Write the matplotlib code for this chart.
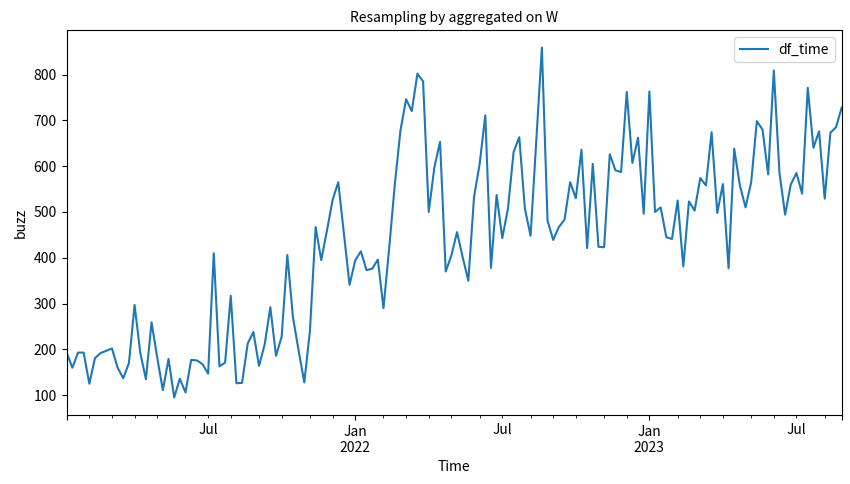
import matplotlib
matplotlib.use("Agg")
import matplotlib.pyplot as plt
import pandas as pd

plt.rcParams['font.family'] = ['Noto Sans CJK SC', 'DejaVu Sans']

start_date = "2021-01-10"
freq = "W"
series_name = "df_time"
buzz = [
    193, 160, 193, 193, 125, 181, 192, 197, 202, 160,
    137, 170, 297, 193, 135, 259, 182, 111, 179, 95,
    136, 106, 177, 176, 168, 147, 410, 163, 171, 317,
    126, 127, 213, 238, 164, 211, 292, 186, 228, 406,
    270, 197, 128, 241, 467, 395, 459, 526, 565, 452,
    341, 394, 414, 373, 376, 396, 290, 420, 560, 678,
    746, 720, 802, 785, 500, 598, 653, 370, 405, 456,
    401, 350, 532, 605, 711, 378, 537, 443, 507, 631,
    663, 507, 448, 655, 859, 481, 439, 467, 483, 565,
    530, 636, 421, 605, 424, 423, 626, 591, 587, 762,
    607, 662, 496, 763, 500, 510, 445, 441, 525, 381,
    523, 503, 574, 558, 674, 498, 561, 377, 638, 558,
    510, 565, 698, 680, 582, 809, 585, 494, 560, 585,
    540, 771, 640, 676, 529, 673, 685, 728,
]

idx = pd.date_range(start=start_date, periods=len(buzz), freq=freq, name="Time")
s = pd.Series(buzz, index=idx, name=series_name)

fig = plt.figure(figsize=(8.5, 4.84), dpi=100)
ax = fig.add_axes([66.7 / 850, 1 - 415 / 484, (841.7 - 66.7) / 850, (415 - 30) / 484])
s.plot(ax=ax, color="#1f77b4", linewidth=1.5)
ax.set_title("Resampling by aggregated on W", fontsize=10)
ax.set_ylabel("buzz", fontsize=10)
ax.set_xlabel("Time", fontsize=10)
ax.legend(loc="upper right")
fig.savefig("out.png", dpi=100)
